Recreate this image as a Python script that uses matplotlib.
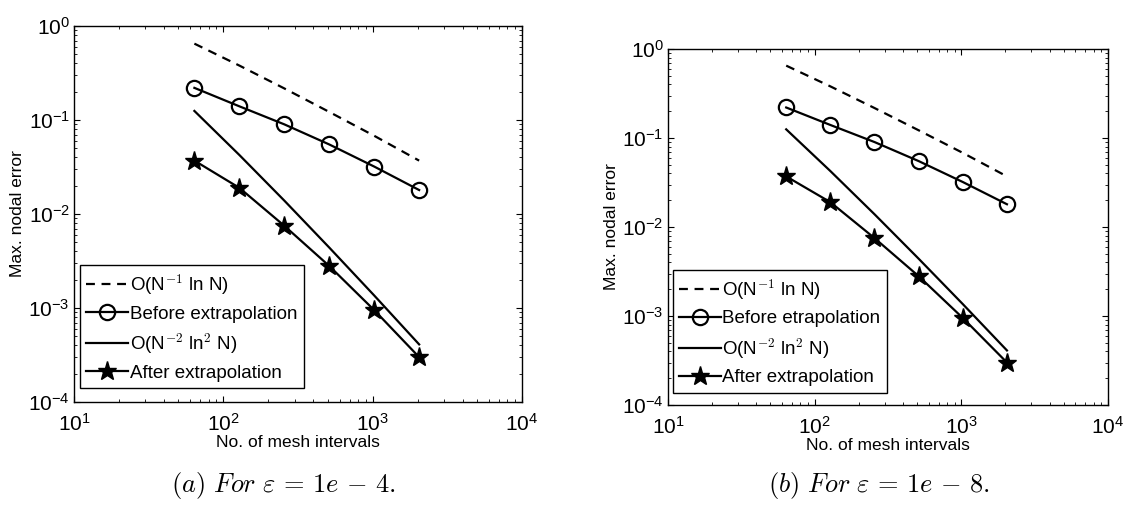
import matplotlib
matplotlib.use("Agg")
import matplotlib.pyplot as plt

plt.rcParams["font.family"] = ["Liberation Sans", "DejaVu Sans"]
plt.rcParams["mathtext.fontset"] = "cm"

# data
N = [64, 128, 256, 512, 1024, 2048]
before_err = [0.22, 0.14, 0.09, 0.055, 0.032, 0.018]
after_err = [0.037, 0.019, 0.0075, 0.0028, 0.00095, 0.0003]
ref_order1 = [0.65, 0.38, 0.217, 0.122, 0.068, 0.037]
ref_order2 = [0.125, 0.0425, 0.0139, 0.0044, 0.00136, 0.00041]

labels_a = [r"O(N$^{-1}$ ln N)", "Before extrapolation",
            r"O(N$^{-2}$ ln$^{2}$ N)", "After extrapolation"]
labels_b = [r"O(N$^{-1}$ ln N)", "Before etrapolation",
            r"O(N$^{-2}$ ln$^{2}$ N)", "After extrapolation"]
captions = [r"$(a)\ For\ \varepsilon\,=\,1e\,-\,4.$", r"$(b)\ For\ \varepsilon\,=\,1e\,-\,8.$"]

fig = plt.figure(figsize=(11.23, 5.08), dpi=100)
ax_a = fig.add_axes([0.0659, 0.2087, 0.3989, 0.740])
ax_b = fig.add_axes([0.5948, 0.2028, 0.3918, 0.7008])


def draw_panel(ax, labels, leg_anchor):
    ax.loglog(N, ref_order1, "k--", lw=1.6, dashes=(4, 3), label=labels[0])
    ax.loglog(N, before_err, "k-o", lw=1.6, ms=11, mfc="none", mew=1.6,
              label=labels[1])
    ax.loglog(N, ref_order2, "k-", lw=1.6, label=labels[2])
    ax.loglog(N, after_err, "k-*", lw=1.6, ms=14, label=labels[3])
    ax.set_xlim(10, 1e4)
    ax.set_ylim(1e-4, 1)
    ax.set_xlabel("No. of mesh intervals", fontsize=12.5, labelpad=0)
    ax.set_ylabel("Max. nodal error", fontsize=12.5, labelpad=2)
    ax.tick_params(which="both", direction="in", top=True, right=True)
    ax.tick_params(which="major", length=4, labelsize=15)
    ax.tick_params(axis="x", which="major", pad=8)
    ax.tick_params(axis="y", which="major", pad=3)
    ax.tick_params(which="minor", length=2)
    for s in ax.spines.values():
        s.set_linewidth(1.0)
    leg = ax.legend(loc="lower left", bbox_to_anchor=leg_anchor,
                    fontsize=13.5, fancybox=False, edgecolor="k",
                    framealpha=1, handlelength=2.2, handletextpad=0.1,
                    borderaxespad=0, labelspacing=0.45, borderpad=0.35)
    leg.get_frame().set_linewidth(1.0)


draw_panel(ax_a, labels_a, (0.013, 0.037))
draw_panel(ax_b, labels_b, (0.011, 0.034))

fig.text(0.252, 0.032, captions[0], fontsize=19, ha="center")
fig.text(0.783, 0.032, captions[1], fontsize=19, ha="center")

fig.savefig("out.png", dpi=100)
